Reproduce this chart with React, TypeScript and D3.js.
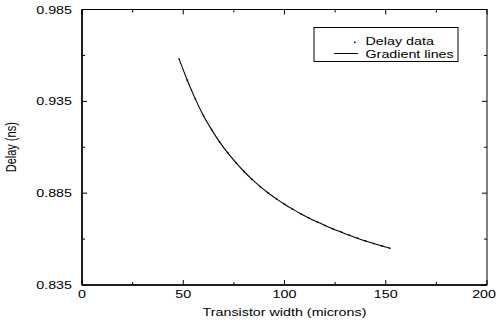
import React from 'react';
import * as d3 from 'd3';

// transistor width (microns) vs delay (ns)
const widths = [48, 52, 56, 60, 64, 68, 72, 76, 80, 84, 88, 92, 96, 100, 104, 108, 112, 116, 120, 124, 128, 132, 136, 140, 144, 148, 152];
const delays = [0.958, 0.9465, 0.9362, 0.9272, 0.9196, 0.9128, 0.9069, 0.9016, 0.8968, 0.8925, 0.8886, 0.8851, 0.8819, 0.8790, 0.8763, 0.8738, 0.8715, 0.8694, 0.8674, 0.8655, 0.8638, 0.8621, 0.8605, 0.8590, 0.8576, 0.8563, 0.8550];

const xTicks = [0, 50, 100, 150, 200];
const xMinor = [25, 75, 125, 175];
const yTicks = [0.835, 0.885, 0.935, 0.985];
const yMinor = [0.86, 0.91, 0.96];

const W = 497;
const H = 322;
const margin = { top: 9.5, right: 10, bottom: 37, left: 82 };
const FONT = 'Liberation Sans, Arial, sans-serif';
const SX = 1.3; // glyphs in the reference are stretched horizontally

function Label({ x, y, anchor, children, rotate }: any) {
  const t = rotate ? `translate(${x},${y}) scale(${SX},1) rotate(-90)` : `translate(${x},${y}) scale(${SX},1)`;
  return (
    <text transform={t} textAnchor={anchor} fontFamily={FONT} fontSize={11} fill="#000">
      {children}
    </text>
  );
}

export default function App() {
  const x = d3.scaleLinear().domain([0, 200]).range([margin.left, W - margin.right]);
  const y = d3.scaleLinear().domain([0.835, 0.985]).range([H - margin.bottom, margin.top]);
  const pts = widths.map((w, i) => [w, delays[i]] as [number, number]);
  const line = d3.line<[number, number]>().x(d => x(d[0])).y(d => y(d[1])).curve(d3.curveMonotoneX);

  const x0 = x(0), x1 = x(200), y0 = y(0.835), y1 = y(0.985);

  return (
    <svg width={W} height={H} style={{ position: 'absolute', left: 0, top: 0, background: '#fff' }}>
      <rect x={0} y={0} width={W} height={H} fill="#fff" />
      {/* frame */}
      <rect x={x0} y={y1} width={x1 - x0} height={y0 - y1} fill="none" stroke="#000" strokeWidth={1} />
      <line x1={x0} x2={x0} y1={y1} y2={y0} stroke="#000" strokeWidth={1.5} />
      <line x1={x0} x2={x1} y1={y0} y2={y0} stroke="#000" strokeWidth={1.5} />

      {/* ticks, inward on all sides */}
      {xTicks.map(t => {
        // last label would run off the right edge, keep it inside
        const last = x(t) + 12 > W;
        return (
          <g key={'xt' + t}>
            <line x1={x(t)} x2={x(t)} y1={y0} y2={y0 - 5} stroke="#000" />
            <line x1={x(t)} x2={x(t)} y1={y1} y2={y1 + 5} stroke="#000" />
            <Label x={last ? W - 1 : x(t)} y={y0 + 13} anchor={last ? 'end' : 'middle'}>{t}</Label>
          </g>
        );
      })}
      {xMinor.map(t => (
        <g key={'xm' + t}>
          <line x1={x(t)} x2={x(t)} y1={y0} y2={y0 - 3} stroke="#000" />
          <line x1={x(t)} x2={x(t)} y1={y1} y2={y1 + 3} stroke="#000" />
        </g>
      ))}
      {yTicks.map(t => (
        <g key={'yt' + t}>
          <line x1={x0} x2={x0 + 5} y1={y(t)} y2={y(t)} stroke="#000" />
          <line x1={x1} x2={x1 - 5} y1={y(t)} y2={y(t)} stroke="#000" />
          <Label x={x0 - 10} y={y(t) + 4} anchor="end">{t.toFixed(3)}</Label>
        </g>
      ))}
      {yMinor.map(t => (
        <g key={'ym' + t}>
          <line x1={x0} x2={x0 + 3} y1={y(t)} y2={y(t)} stroke="#000" />
          <line x1={x1} x2={x1 - 3} y1={y(t)} y2={y(t)} stroke="#000" />
        </g>
      ))}

      {/* axis titles */}
      <Label x={(x0 + x1) / 2} y={H - 6} anchor="middle">Transistor width (microns)</Label>
      <Label x={16} y={(y0 + y1) / 2} anchor="middle" rotate>Delay (ns)</Label>

      {/* data */}
      <path d={line(pts) || ''} fill="none" stroke="#000" strokeWidth={1.1} />
      {pts.map((p, i) => (
        <rect key={i} x={x(p[0]) - 0.75} y={y(p[1]) - 0.75} width={1.5} height={1.5} fill="#000" />
      ))}

      {/* legend */}
      <rect x={314} y={27.5} width={144} height={34} fill="#fff" stroke="#000" strokeWidth={1} />
      <rect x={354} y={41.5} width={1.5} height={1.5} fill="#000" />
      <Label x={365.5} y={44.5} anchor="start">Delay data</Label>
      <line x1={334} x2={358} y1={53.5} y2={53.5} stroke="#000" strokeWidth={1} />
      <Label x={365.5} y={57.5} anchor="start">Gradient lines</Label>
    </svg>
  );
}
